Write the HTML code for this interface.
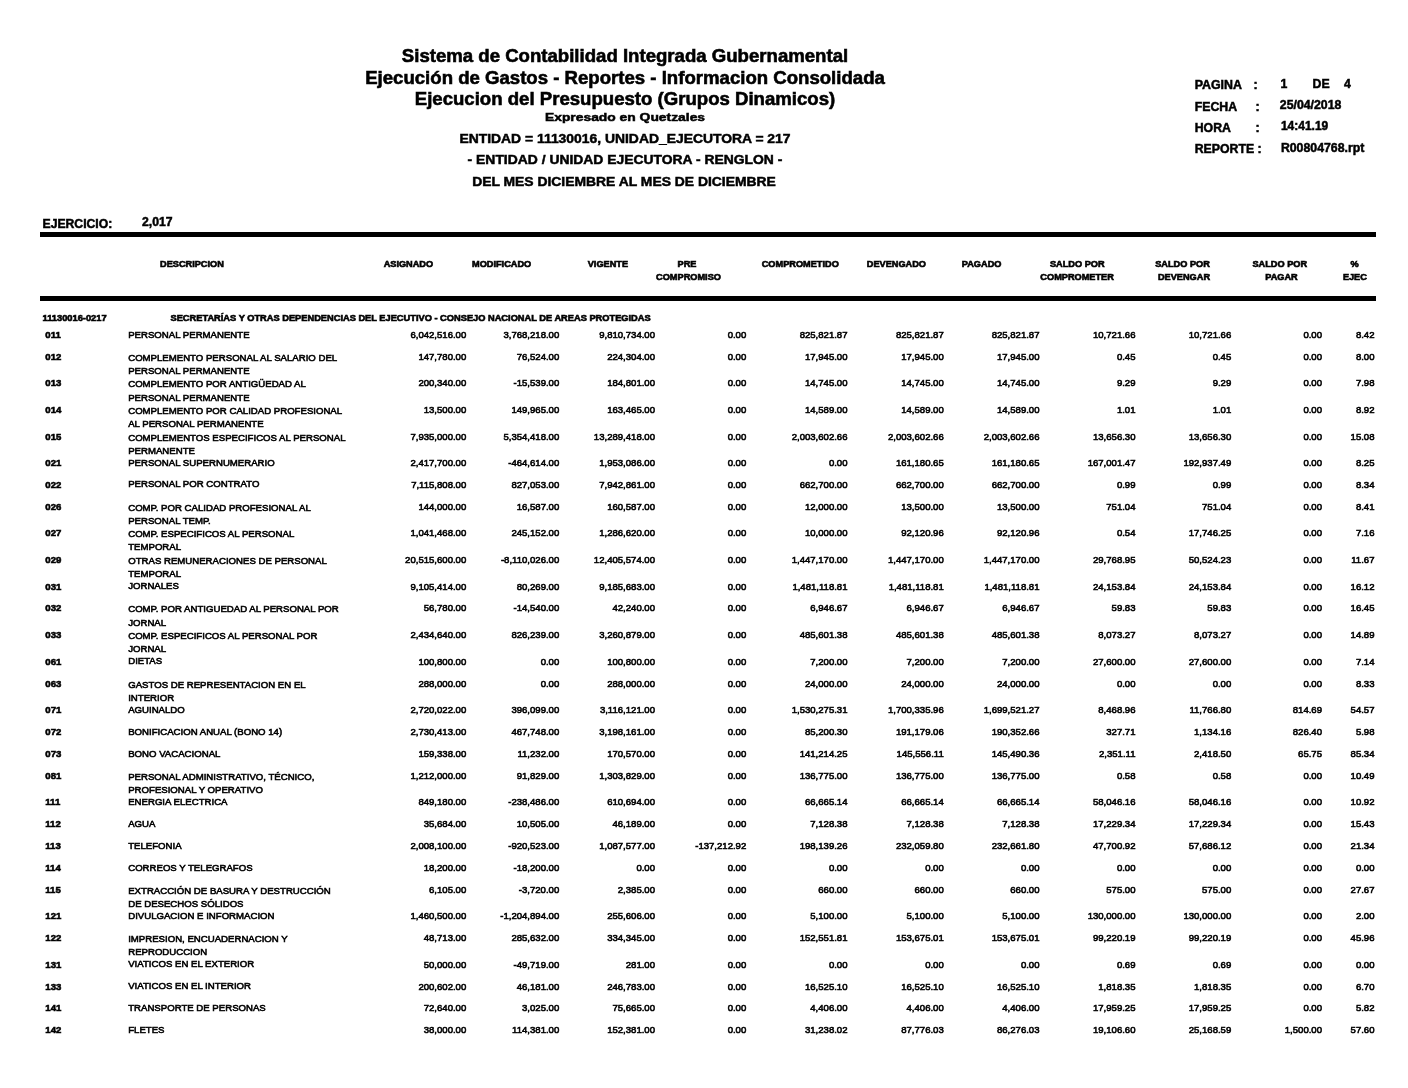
<!DOCTYPE html>
<html lang="es">
<head>
<meta charset="utf-8">
<title>Ejecucion del Presupuesto (Grupos Dinamicos)</title>
<style>
html,body{margin:0;padding:0;background:#fff;}
body{width:1408px;height:1088px;position:relative;overflow:hidden;font-family:"Liberation Sans", Arial, Helvetica, sans-serif;color:#000;}
.t{position:absolute;white-space:nowrap;margin:0;padding:0;-webkit-text-stroke:0.58px #000;}
.b{font-weight:bold;-webkit-text-stroke:0.5px #000;}
.h{-webkit-text-stroke:0.62px #000;}
.c{-webkit-text-stroke:0.58px #000;}
.big{-webkit-text-stroke:0.6px #000;}
#pg{position:absolute;left:0;top:0;width:1408px;height:1088px;will-change:transform;}
.rule{position:absolute;left:40px;width:1336.25px;background:#000;}
</style>
</head>
<body>
<div id="pg">
<div class="t b big" style="top:45px;font-size:18.6px;line-height:21px;left:325.00px;width:600px;text-align:center;">Sistema de Contabilidad Integrada Gubernamental</div>
<div class="t b big" style="top:67px;font-size:18.6px;line-height:21px;left:325.00px;width:600px;text-align:center;">Ejecución de Gastos - Reportes - Informacion Consolidada</div>
<div class="t b big" style="top:88px;font-size:18.6px;line-height:21px;left:325.00px;width:600px;text-align:center;">Ejecucion del Presupuesto (Grupos Dinamicos)</div>
<div class="t b" style="top:111px;font-size:11.3px;line-height:12px;left:325.00px;width:600px;text-align:center;transform:scaleX(1.226);transform-origin:50% 0;">Expresado en Quetzales</div>
<div class="t b" style="top:131px;font-size:13.4px;line-height:15px;left:325.00px;width:600px;text-align:center;transform:scaleX(1.037);transform-origin:50% 0;">ENTIDAD = 11130016, UNIDAD_EJECUTORA = 217</div>
<div class="t b" style="top:152px;font-size:13.4px;line-height:15px;left:325.00px;width:600px;text-align:center;transform:scaleX(1.037);transform-origin:50% 0;">- ENTIDAD / UNIDAD EJECUTORA - RENGLON -</div>
<div class="t b" style="top:174px;font-size:13.4px;line-height:15px;left:324.20px;width:600px;text-align:center;transform:scaleX(1.037);transform-origin:50% 0;">DEL MES DICIEMBRE AL MES DE DICIEMBRE</div>
<div class="t b" style="top:78px;font-size:12.4px;line-height:14px;left:1194.70px;">PAGINA</div>
<div class="t b" style="top:78px;font-size:12.4px;line-height:14px;left:1253.50px;">:</div>
<div class="t b" style="top:77px;font-size:12.3px;line-height:14px;left:1280.60px;">1</div>
<div class="t b" style="top:77px;font-size:12.3px;line-height:14px;left:1312.60px;">DE</div>
<div class="t b" style="top:77px;font-size:12.3px;line-height:14px;left:1343.90px;">4</div>
<div class="t b" style="top:100px;font-size:12.3px;line-height:14px;left:1194.70px;">FECHA</div>
<div class="t b" style="top:100px;font-size:12.4px;line-height:14px;left:1255.50px;">:</div>
<div class="t b" style="top:98px;font-size:12.3px;line-height:14px;left:1279.80px;">25/04/2018</div>
<div class="t b" style="top:121px;font-size:12.3px;line-height:14px;left:1194.70px;">HORA</div>
<div class="t b" style="top:121px;font-size:12.4px;line-height:14px;left:1255.50px;">:</div>
<div class="t b" style="top:119px;font-size:12.0px;line-height:14px;left:1280.90px;">14:41.19</div>
<div class="t b" style="top:142px;font-size:12.3px;line-height:14px;left:1194.70px;">REPORTE :</div>
<div class="t b" style="top:141px;font-size:12.3px;line-height:14px;left:1280.90px;">R00804768.rpt</div>
<div class="t b" style="top:217px;font-size:12.2px;line-height:14px;left:42.50px;">EJERCICIO:</div>
<div class="t b" style="top:215px;font-size:12.2px;line-height:14px;left:142.00px;">2,017</div>
<div class="rule" style="top:231.75px;height:5px;"></div>
<div class="rule" style="top:296.25px;height:4.5px;"></div>
<div class="t b h" style="top:259px;font-size:9.2px;line-height:10px;left:-108.10px;width:600px;text-align:center;">DESCRIPCION</div>
<div class="t b h" style="top:259px;font-size:9.2px;line-height:10px;left:108.40px;width:600px;text-align:center;">ASIGNADO</div>
<div class="t b h" style="top:259px;font-size:9.2px;line-height:10px;left:201.60px;width:600px;text-align:center;">MODIFICADO</div>
<div class="t b h" style="top:259px;font-size:9.2px;line-height:10px;left:307.90px;width:600px;text-align:center;">VIGENTE</div>
<div class="t b h" style="top:259px;font-size:9.2px;line-height:10px;left:387.00px;width:600px;text-align:center;">PRE</div>
<div class="t b h" style="top:272px;font-size:9.2px;line-height:10px;left:388.50px;width:600px;text-align:center;">COMPROMISO</div>
<div class="t b h" style="top:259px;font-size:9.2px;line-height:10px;left:500.25px;width:600px;text-align:center;">COMPROMETIDO</div>
<div class="t b h" style="top:259px;font-size:9.2px;line-height:10px;left:596.40px;width:600px;text-align:center;">DEVENGADO</div>
<div class="t b h" style="top:259px;font-size:9.2px;line-height:10px;left:681.60px;width:600px;text-align:center;">PAGADO</div>
<div class="t b h" style="top:259px;font-size:9.2px;line-height:10px;left:777.25px;width:600px;text-align:center;">SALDO POR</div>
<div class="t b h" style="top:272px;font-size:9.2px;line-height:10px;left:777.10px;width:600px;text-align:center;">COMPROMETER</div>
<div class="t b h" style="top:259px;font-size:9.2px;line-height:10px;left:882.50px;width:600px;text-align:center;">SALDO POR</div>
<div class="t b h" style="top:272px;font-size:9.2px;line-height:10px;left:884.00px;width:600px;text-align:center;">DEVENGAR</div>
<div class="t b h" style="top:259px;font-size:9.2px;line-height:10px;left:979.75px;width:600px;text-align:center;">SALDO POR</div>
<div class="t b h" style="top:272px;font-size:9.2px;line-height:10px;left:981.50px;width:600px;text-align:center;">PAGAR</div>
<div class="t b h" style="top:259px;font-size:9.2px;line-height:10px;left:1054.60px;width:600px;text-align:center;">%</div>
<div class="t b h" style="top:272px;font-size:9.2px;line-height:10px;left:1054.90px;width:600px;text-align:center;">EJEC</div>
<div class="t b h" style="top:313px;font-size:9.3px;line-height:10px;left:42.50px;">11130016-0217</div>
<div class="t b h" style="top:313px;font-size:9.28px;line-height:10px;left:170.50px;">SECRETARÍAS Y OTRAS DEPENDENCIAS DEL EJECUTIVO - CONSEJO NACIONAL DE AREAS PROTEGIDAS</div>
<div class="t b c" style="top:329px;font-size:9.6px;line-height:11px;left:45.30px;">011</div>
<div class="t d" style="top:329px;font-size:9.62px;line-height:11px;left:128.20px;">PERSONAL PERMANENTE</div>
<div class="t n" style="top:329px;font-size:9.57px;line-height:11px;left:0;width:466.25px;text-align:right;">6,042,516.00</div>
<div class="t n" style="top:329px;font-size:9.57px;line-height:11px;left:0;width:559.25px;text-align:right;">3,768,218.00</div>
<div class="t n" style="top:329px;font-size:9.57px;line-height:11px;left:0;width:655.00px;text-align:right;">9,810,734.00</div>
<div class="t n" style="top:329px;font-size:9.57px;line-height:11px;left:0;width:746.25px;text-align:right;">0.00</div>
<div class="t n" style="top:329px;font-size:9.57px;line-height:11px;left:0;width:847.50px;text-align:right;">825,821.87</div>
<div class="t n" style="top:329px;font-size:9.57px;line-height:11px;left:0;width:943.75px;text-align:right;">825,821.87</div>
<div class="t n" style="top:329px;font-size:9.57px;line-height:11px;left:0;width:1039.50px;text-align:right;">825,821.87</div>
<div class="t n" style="top:329px;font-size:9.57px;line-height:11px;left:0;width:1135.50px;text-align:right;">10,721.66</div>
<div class="t n" style="top:329px;font-size:9.57px;line-height:11px;left:0;width:1231.25px;text-align:right;">10,721.66</div>
<div class="t n" style="top:329px;font-size:9.57px;line-height:11px;left:0;width:1322.00px;text-align:right;">0.00</div>
<div class="t n" style="top:329px;font-size:9.57px;line-height:11px;left:0;width:1374.50px;text-align:right;">8.42</div>
<div class="t b c" style="top:351px;font-size:9.6px;line-height:11px;left:45.30px;">012</div>
<div class="t d" style="top:352px;font-size:9.62px;line-height:11px;left:128.20px;">COMPLEMENTO PERSONAL AL SALARIO DEL</div>
<div class="t d" style="top:365px;font-size:9.62px;line-height:11px;left:128.20px;">PERSONAL PERMANENTE</div>
<div class="t n" style="top:351px;font-size:9.57px;line-height:11px;left:0;width:466.25px;text-align:right;">147,780.00</div>
<div class="t n" style="top:351px;font-size:9.57px;line-height:11px;left:0;width:559.25px;text-align:right;">76,524.00</div>
<div class="t n" style="top:351px;font-size:9.57px;line-height:11px;left:0;width:655.00px;text-align:right;">224,304.00</div>
<div class="t n" style="top:351px;font-size:9.57px;line-height:11px;left:0;width:746.25px;text-align:right;">0.00</div>
<div class="t n" style="top:351px;font-size:9.57px;line-height:11px;left:0;width:847.50px;text-align:right;">17,945.00</div>
<div class="t n" style="top:351px;font-size:9.57px;line-height:11px;left:0;width:943.75px;text-align:right;">17,945.00</div>
<div class="t n" style="top:351px;font-size:9.57px;line-height:11px;left:0;width:1039.50px;text-align:right;">17,945.00</div>
<div class="t n" style="top:351px;font-size:9.57px;line-height:11px;left:0;width:1135.50px;text-align:right;">0.45</div>
<div class="t n" style="top:351px;font-size:9.57px;line-height:11px;left:0;width:1231.25px;text-align:right;">0.45</div>
<div class="t n" style="top:351px;font-size:9.57px;line-height:11px;left:0;width:1322.00px;text-align:right;">0.00</div>
<div class="t n" style="top:351px;font-size:9.57px;line-height:11px;left:0;width:1374.50px;text-align:right;">8.00</div>
<div class="t b c" style="top:377px;font-size:9.6px;line-height:11px;left:45.30px;">013</div>
<div class="t d" style="top:378px;font-size:9.62px;line-height:11px;left:128.20px;">COMPLEMENTO POR ANTIGÜEDAD AL</div>
<div class="t d" style="top:392px;font-size:9.62px;line-height:11px;left:128.20px;">PERSONAL PERMANENTE</div>
<div class="t n" style="top:377px;font-size:9.57px;line-height:11px;left:0;width:466.25px;text-align:right;">200,340.00</div>
<div class="t n" style="top:377px;font-size:9.57px;line-height:11px;left:0;width:559.25px;text-align:right;">-15,539.00</div>
<div class="t n" style="top:377px;font-size:9.57px;line-height:11px;left:0;width:655.00px;text-align:right;">184,801.00</div>
<div class="t n" style="top:377px;font-size:9.57px;line-height:11px;left:0;width:746.25px;text-align:right;">0.00</div>
<div class="t n" style="top:377px;font-size:9.57px;line-height:11px;left:0;width:847.50px;text-align:right;">14,745.00</div>
<div class="t n" style="top:377px;font-size:9.57px;line-height:11px;left:0;width:943.75px;text-align:right;">14,745.00</div>
<div class="t n" style="top:377px;font-size:9.57px;line-height:11px;left:0;width:1039.50px;text-align:right;">14,745.00</div>
<div class="t n" style="top:377px;font-size:9.57px;line-height:11px;left:0;width:1135.50px;text-align:right;">9.29</div>
<div class="t n" style="top:377px;font-size:9.57px;line-height:11px;left:0;width:1231.25px;text-align:right;">9.29</div>
<div class="t n" style="top:377px;font-size:9.57px;line-height:11px;left:0;width:1322.00px;text-align:right;">0.00</div>
<div class="t n" style="top:377px;font-size:9.57px;line-height:11px;left:0;width:1374.50px;text-align:right;">7.98</div>
<div class="t b c" style="top:404px;font-size:9.6px;line-height:11px;left:45.30px;">014</div>
<div class="t d" style="top:405px;font-size:9.62px;line-height:11px;left:128.20px;">COMPLEMENTO POR CALIDAD PROFESIONAL</div>
<div class="t d" style="top:418px;font-size:9.62px;line-height:11px;left:128.20px;">AL PERSONAL PERMANENTE</div>
<div class="t n" style="top:404px;font-size:9.57px;line-height:11px;left:0;width:466.25px;text-align:right;">13,500.00</div>
<div class="t n" style="top:404px;font-size:9.57px;line-height:11px;left:0;width:559.25px;text-align:right;">149,965.00</div>
<div class="t n" style="top:404px;font-size:9.57px;line-height:11px;left:0;width:655.00px;text-align:right;">163,465.00</div>
<div class="t n" style="top:404px;font-size:9.57px;line-height:11px;left:0;width:746.25px;text-align:right;">0.00</div>
<div class="t n" style="top:404px;font-size:9.57px;line-height:11px;left:0;width:847.50px;text-align:right;">14,589.00</div>
<div class="t n" style="top:404px;font-size:9.57px;line-height:11px;left:0;width:943.75px;text-align:right;">14,589.00</div>
<div class="t n" style="top:404px;font-size:9.57px;line-height:11px;left:0;width:1039.50px;text-align:right;">14,589.00</div>
<div class="t n" style="top:404px;font-size:9.57px;line-height:11px;left:0;width:1135.50px;text-align:right;">1.01</div>
<div class="t n" style="top:404px;font-size:9.57px;line-height:11px;left:0;width:1231.25px;text-align:right;">1.01</div>
<div class="t n" style="top:404px;font-size:9.57px;line-height:11px;left:0;width:1322.00px;text-align:right;">0.00</div>
<div class="t n" style="top:404px;font-size:9.57px;line-height:11px;left:0;width:1374.50px;text-align:right;">8.92</div>
<div class="t b c" style="top:431px;font-size:9.6px;line-height:11px;left:45.30px;">015</div>
<div class="t d" style="top:432px;font-size:9.62px;line-height:11px;left:128.20px;">COMPLEMENTOS ESPECIFICOS AL PERSONAL</div>
<div class="t d" style="top:445px;font-size:9.62px;line-height:11px;left:128.20px;">PERMANENTE</div>
<div class="t n" style="top:431px;font-size:9.57px;line-height:11px;left:0;width:466.25px;text-align:right;">7,935,000.00</div>
<div class="t n" style="top:431px;font-size:9.57px;line-height:11px;left:0;width:559.25px;text-align:right;">5,354,418.00</div>
<div class="t n" style="top:431px;font-size:9.57px;line-height:11px;left:0;width:655.00px;text-align:right;">13,289,418.00</div>
<div class="t n" style="top:431px;font-size:9.57px;line-height:11px;left:0;width:746.25px;text-align:right;">0.00</div>
<div class="t n" style="top:431px;font-size:9.57px;line-height:11px;left:0;width:847.50px;text-align:right;">2,003,602.66</div>
<div class="t n" style="top:431px;font-size:9.57px;line-height:11px;left:0;width:943.75px;text-align:right;">2,003,602.66</div>
<div class="t n" style="top:431px;font-size:9.57px;line-height:11px;left:0;width:1039.50px;text-align:right;">2,003,602.66</div>
<div class="t n" style="top:431px;font-size:9.57px;line-height:11px;left:0;width:1135.50px;text-align:right;">13,656.30</div>
<div class="t n" style="top:431px;font-size:9.57px;line-height:11px;left:0;width:1231.25px;text-align:right;">13,656.30</div>
<div class="t n" style="top:431px;font-size:9.57px;line-height:11px;left:0;width:1322.00px;text-align:right;">0.00</div>
<div class="t n" style="top:431px;font-size:9.57px;line-height:11px;left:0;width:1374.50px;text-align:right;">15.08</div>
<div class="t b c" style="top:457px;font-size:9.6px;line-height:11px;left:45.30px;">021</div>
<div class="t d" style="top:457px;font-size:9.62px;line-height:11px;left:128.20px;">PERSONAL SUPERNUMERARIO</div>
<div class="t n" style="top:457px;font-size:9.57px;line-height:11px;left:0;width:466.25px;text-align:right;">2,417,700.00</div>
<div class="t n" style="top:457px;font-size:9.57px;line-height:11px;left:0;width:559.25px;text-align:right;">-464,614.00</div>
<div class="t n" style="top:457px;font-size:9.57px;line-height:11px;left:0;width:655.00px;text-align:right;">1,953,086.00</div>
<div class="t n" style="top:457px;font-size:9.57px;line-height:11px;left:0;width:746.25px;text-align:right;">0.00</div>
<div class="t n" style="top:457px;font-size:9.57px;line-height:11px;left:0;width:847.50px;text-align:right;">0.00</div>
<div class="t n" style="top:457px;font-size:9.57px;line-height:11px;left:0;width:943.75px;text-align:right;">161,180.65</div>
<div class="t n" style="top:457px;font-size:9.57px;line-height:11px;left:0;width:1039.50px;text-align:right;">161,180.65</div>
<div class="t n" style="top:457px;font-size:9.57px;line-height:11px;left:0;width:1135.50px;text-align:right;">167,001.47</div>
<div class="t n" style="top:457px;font-size:9.57px;line-height:11px;left:0;width:1231.25px;text-align:right;">192,937.49</div>
<div class="t n" style="top:457px;font-size:9.57px;line-height:11px;left:0;width:1322.00px;text-align:right;">0.00</div>
<div class="t n" style="top:457px;font-size:9.57px;line-height:11px;left:0;width:1374.50px;text-align:right;">8.25</div>
<div class="t b c" style="top:479px;font-size:9.6px;line-height:11px;left:45.30px;">022</div>
<div class="t d" style="top:478px;font-size:9.62px;line-height:11px;left:128.20px;">PERSONAL POR CONTRATO</div>
<div class="t n" style="top:479px;font-size:9.57px;line-height:11px;left:0;width:466.25px;text-align:right;">7,115,808.00</div>
<div class="t n" style="top:479px;font-size:9.57px;line-height:11px;left:0;width:559.25px;text-align:right;">827,053.00</div>
<div class="t n" style="top:479px;font-size:9.57px;line-height:11px;left:0;width:655.00px;text-align:right;">7,942,861.00</div>
<div class="t n" style="top:479px;font-size:9.57px;line-height:11px;left:0;width:746.25px;text-align:right;">0.00</div>
<div class="t n" style="top:479px;font-size:9.57px;line-height:11px;left:0;width:847.50px;text-align:right;">662,700.00</div>
<div class="t n" style="top:479px;font-size:9.57px;line-height:11px;left:0;width:943.75px;text-align:right;">662,700.00</div>
<div class="t n" style="top:479px;font-size:9.57px;line-height:11px;left:0;width:1039.50px;text-align:right;">662,700.00</div>
<div class="t n" style="top:479px;font-size:9.57px;line-height:11px;left:0;width:1135.50px;text-align:right;">0.99</div>
<div class="t n" style="top:479px;font-size:9.57px;line-height:11px;left:0;width:1231.25px;text-align:right;">0.99</div>
<div class="t n" style="top:479px;font-size:9.57px;line-height:11px;left:0;width:1322.00px;text-align:right;">0.00</div>
<div class="t n" style="top:479px;font-size:9.57px;line-height:11px;left:0;width:1374.50px;text-align:right;">8.34</div>
<div class="t b c" style="top:501px;font-size:9.6px;line-height:11px;left:45.30px;">026</div>
<div class="t d" style="top:502px;font-size:9.62px;line-height:11px;left:128.20px;">COMP. POR CALIDAD PROFESIONAL AL</div>
<div class="t d" style="top:515px;font-size:9.62px;line-height:11px;left:128.20px;">PERSONAL TEMP.</div>
<div class="t n" style="top:501px;font-size:9.57px;line-height:11px;left:0;width:466.25px;text-align:right;">144,000.00</div>
<div class="t n" style="top:501px;font-size:9.57px;line-height:11px;left:0;width:559.25px;text-align:right;">16,587.00</div>
<div class="t n" style="top:501px;font-size:9.57px;line-height:11px;left:0;width:655.00px;text-align:right;">160,587.00</div>
<div class="t n" style="top:501px;font-size:9.57px;line-height:11px;left:0;width:746.25px;text-align:right;">0.00</div>
<div class="t n" style="top:501px;font-size:9.57px;line-height:11px;left:0;width:847.50px;text-align:right;">12,000.00</div>
<div class="t n" style="top:501px;font-size:9.57px;line-height:11px;left:0;width:943.75px;text-align:right;">13,500.00</div>
<div class="t n" style="top:501px;font-size:9.57px;line-height:11px;left:0;width:1039.50px;text-align:right;">13,500.00</div>
<div class="t n" style="top:501px;font-size:9.57px;line-height:11px;left:0;width:1135.50px;text-align:right;">751.04</div>
<div class="t n" style="top:501px;font-size:9.57px;line-height:11px;left:0;width:1231.25px;text-align:right;">751.04</div>
<div class="t n" style="top:501px;font-size:9.57px;line-height:11px;left:0;width:1322.00px;text-align:right;">0.00</div>
<div class="t n" style="top:501px;font-size:9.57px;line-height:11px;left:0;width:1374.50px;text-align:right;">8.41</div>
<div class="t b c" style="top:527px;font-size:9.6px;line-height:11px;left:45.30px;">027</div>
<div class="t d" style="top:528px;font-size:9.62px;line-height:11px;left:128.20px;">COMP. ESPECIFICOS AL PERSONAL</div>
<div class="t d" style="top:541px;font-size:9.62px;line-height:11px;left:128.20px;">TEMPORAL</div>
<div class="t n" style="top:527px;font-size:9.57px;line-height:11px;left:0;width:466.25px;text-align:right;">1,041,468.00</div>
<div class="t n" style="top:527px;font-size:9.57px;line-height:11px;left:0;width:559.25px;text-align:right;">245,152.00</div>
<div class="t n" style="top:527px;font-size:9.57px;line-height:11px;left:0;width:655.00px;text-align:right;">1,286,620.00</div>
<div class="t n" style="top:527px;font-size:9.57px;line-height:11px;left:0;width:746.25px;text-align:right;">0.00</div>
<div class="t n" style="top:527px;font-size:9.57px;line-height:11px;left:0;width:847.50px;text-align:right;">10,000.00</div>
<div class="t n" style="top:527px;font-size:9.57px;line-height:11px;left:0;width:943.75px;text-align:right;">92,120.96</div>
<div class="t n" style="top:527px;font-size:9.57px;line-height:11px;left:0;width:1039.50px;text-align:right;">92,120.96</div>
<div class="t n" style="top:527px;font-size:9.57px;line-height:11px;left:0;width:1135.50px;text-align:right;">0.54</div>
<div class="t n" style="top:527px;font-size:9.57px;line-height:11px;left:0;width:1231.25px;text-align:right;">17,746.25</div>
<div class="t n" style="top:527px;font-size:9.57px;line-height:11px;left:0;width:1322.00px;text-align:right;">0.00</div>
<div class="t n" style="top:527px;font-size:9.57px;line-height:11px;left:0;width:1374.50px;text-align:right;">7.16</div>
<div class="t b c" style="top:554px;font-size:9.6px;line-height:11px;left:45.30px;">029</div>
<div class="t d" style="top:555px;font-size:9.62px;line-height:11px;left:128.20px;">OTRAS REMUNERACIONES DE PERSONAL</div>
<div class="t d" style="top:568px;font-size:9.62px;line-height:11px;left:128.20px;">TEMPORAL</div>
<div class="t n" style="top:554px;font-size:9.57px;line-height:11px;left:0;width:466.25px;text-align:right;">20,515,600.00</div>
<div class="t n" style="top:554px;font-size:9.57px;line-height:11px;left:0;width:559.25px;text-align:right;">-8,110,026.00</div>
<div class="t n" style="top:554px;font-size:9.57px;line-height:11px;left:0;width:655.00px;text-align:right;">12,405,574.00</div>
<div class="t n" style="top:554px;font-size:9.57px;line-height:11px;left:0;width:746.25px;text-align:right;">0.00</div>
<div class="t n" style="top:554px;font-size:9.57px;line-height:11px;left:0;width:847.50px;text-align:right;">1,447,170.00</div>
<div class="t n" style="top:554px;font-size:9.57px;line-height:11px;left:0;width:943.75px;text-align:right;">1,447,170.00</div>
<div class="t n" style="top:554px;font-size:9.57px;line-height:11px;left:0;width:1039.50px;text-align:right;">1,447,170.00</div>
<div class="t n" style="top:554px;font-size:9.57px;line-height:11px;left:0;width:1135.50px;text-align:right;">29,768.95</div>
<div class="t n" style="top:554px;font-size:9.57px;line-height:11px;left:0;width:1231.25px;text-align:right;">50,524.23</div>
<div class="t n" style="top:554px;font-size:9.57px;line-height:11px;left:0;width:1322.00px;text-align:right;">0.00</div>
<div class="t n" style="top:554px;font-size:9.57px;line-height:11px;left:0;width:1374.50px;text-align:right;">11.67</div>
<div class="t b c" style="top:581px;font-size:9.6px;line-height:11px;left:45.30px;">031</div>
<div class="t d" style="top:580px;font-size:9.62px;line-height:11px;left:128.20px;">JORNALES</div>
<div class="t n" style="top:581px;font-size:9.57px;line-height:11px;left:0;width:466.25px;text-align:right;">9,105,414.00</div>
<div class="t n" style="top:581px;font-size:9.57px;line-height:11px;left:0;width:559.25px;text-align:right;">80,269.00</div>
<div class="t n" style="top:581px;font-size:9.57px;line-height:11px;left:0;width:655.00px;text-align:right;">9,185,683.00</div>
<div class="t n" style="top:581px;font-size:9.57px;line-height:11px;left:0;width:746.25px;text-align:right;">0.00</div>
<div class="t n" style="top:581px;font-size:9.57px;line-height:11px;left:0;width:847.50px;text-align:right;">1,481,118.81</div>
<div class="t n" style="top:581px;font-size:9.57px;line-height:11px;left:0;width:943.75px;text-align:right;">1,481,118.81</div>
<div class="t n" style="top:581px;font-size:9.57px;line-height:11px;left:0;width:1039.50px;text-align:right;">1,481,118.81</div>
<div class="t n" style="top:581px;font-size:9.57px;line-height:11px;left:0;width:1135.50px;text-align:right;">24,153.84</div>
<div class="t n" style="top:581px;font-size:9.57px;line-height:11px;left:0;width:1231.25px;text-align:right;">24,153.84</div>
<div class="t n" style="top:581px;font-size:9.57px;line-height:11px;left:0;width:1322.00px;text-align:right;">0.00</div>
<div class="t n" style="top:581px;font-size:9.57px;line-height:11px;left:0;width:1374.50px;text-align:right;">16.12</div>
<div class="t b c" style="top:602px;font-size:9.6px;line-height:11px;left:45.30px;">032</div>
<div class="t d" style="top:603px;font-size:9.62px;line-height:11px;left:128.20px;">COMP. POR ANTIGUEDAD AL PERSONAL POR</div>
<div class="t d" style="top:617px;font-size:9.62px;line-height:11px;left:128.20px;">JORNAL</div>
<div class="t n" style="top:602px;font-size:9.57px;line-height:11px;left:0;width:466.25px;text-align:right;">56,780.00</div>
<div class="t n" style="top:602px;font-size:9.57px;line-height:11px;left:0;width:559.25px;text-align:right;">-14,540.00</div>
<div class="t n" style="top:602px;font-size:9.57px;line-height:11px;left:0;width:655.00px;text-align:right;">42,240.00</div>
<div class="t n" style="top:602px;font-size:9.57px;line-height:11px;left:0;width:746.25px;text-align:right;">0.00</div>
<div class="t n" style="top:602px;font-size:9.57px;line-height:11px;left:0;width:847.50px;text-align:right;">6,946.67</div>
<div class="t n" style="top:602px;font-size:9.57px;line-height:11px;left:0;width:943.75px;text-align:right;">6,946.67</div>
<div class="t n" style="top:602px;font-size:9.57px;line-height:11px;left:0;width:1039.50px;text-align:right;">6,946.67</div>
<div class="t n" style="top:602px;font-size:9.57px;line-height:11px;left:0;width:1135.50px;text-align:right;">59.83</div>
<div class="t n" style="top:602px;font-size:9.57px;line-height:11px;left:0;width:1231.25px;text-align:right;">59.83</div>
<div class="t n" style="top:602px;font-size:9.57px;line-height:11px;left:0;width:1322.00px;text-align:right;">0.00</div>
<div class="t n" style="top:602px;font-size:9.57px;line-height:11px;left:0;width:1374.50px;text-align:right;">16.45</div>
<div class="t b c" style="top:629px;font-size:9.6px;line-height:11px;left:45.30px;">033</div>
<div class="t d" style="top:630px;font-size:9.62px;line-height:11px;left:128.20px;">COMP. ESPECIFICOS AL PERSONAL POR</div>
<div class="t d" style="top:643px;font-size:9.62px;line-height:11px;left:128.20px;">JORNAL</div>
<div class="t n" style="top:629px;font-size:9.57px;line-height:11px;left:0;width:466.25px;text-align:right;">2,434,640.00</div>
<div class="t n" style="top:629px;font-size:9.57px;line-height:11px;left:0;width:559.25px;text-align:right;">826,239.00</div>
<div class="t n" style="top:629px;font-size:9.57px;line-height:11px;left:0;width:655.00px;text-align:right;">3,260,879.00</div>
<div class="t n" style="top:629px;font-size:9.57px;line-height:11px;left:0;width:746.25px;text-align:right;">0.00</div>
<div class="t n" style="top:629px;font-size:9.57px;line-height:11px;left:0;width:847.50px;text-align:right;">485,601.38</div>
<div class="t n" style="top:629px;font-size:9.57px;line-height:11px;left:0;width:943.75px;text-align:right;">485,601.38</div>
<div class="t n" style="top:629px;font-size:9.57px;line-height:11px;left:0;width:1039.50px;text-align:right;">485,601.38</div>
<div class="t n" style="top:629px;font-size:9.57px;line-height:11px;left:0;width:1135.50px;text-align:right;">8,073.27</div>
<div class="t n" style="top:629px;font-size:9.57px;line-height:11px;left:0;width:1231.25px;text-align:right;">8,073.27</div>
<div class="t n" style="top:629px;font-size:9.57px;line-height:11px;left:0;width:1322.00px;text-align:right;">0.00</div>
<div class="t n" style="top:629px;font-size:9.57px;line-height:11px;left:0;width:1374.50px;text-align:right;">14.89</div>
<div class="t b c" style="top:656px;font-size:9.6px;line-height:11px;left:45.30px;">061</div>
<div class="t d" style="top:655px;font-size:9.62px;line-height:11px;left:128.20px;">DIETAS</div>
<div class="t n" style="top:656px;font-size:9.57px;line-height:11px;left:0;width:466.25px;text-align:right;">100,800.00</div>
<div class="t n" style="top:656px;font-size:9.57px;line-height:11px;left:0;width:559.25px;text-align:right;">0.00</div>
<div class="t n" style="top:656px;font-size:9.57px;line-height:11px;left:0;width:655.00px;text-align:right;">100,800.00</div>
<div class="t n" style="top:656px;font-size:9.57px;line-height:11px;left:0;width:746.25px;text-align:right;">0.00</div>
<div class="t n" style="top:656px;font-size:9.57px;line-height:11px;left:0;width:847.50px;text-align:right;">7,200.00</div>
<div class="t n" style="top:656px;font-size:9.57px;line-height:11px;left:0;width:943.75px;text-align:right;">7,200.00</div>
<div class="t n" style="top:656px;font-size:9.57px;line-height:11px;left:0;width:1039.50px;text-align:right;">7,200.00</div>
<div class="t n" style="top:656px;font-size:9.57px;line-height:11px;left:0;width:1135.50px;text-align:right;">27,600.00</div>
<div class="t n" style="top:656px;font-size:9.57px;line-height:11px;left:0;width:1231.25px;text-align:right;">27,600.00</div>
<div class="t n" style="top:656px;font-size:9.57px;line-height:11px;left:0;width:1322.00px;text-align:right;">0.00</div>
<div class="t n" style="top:656px;font-size:9.57px;line-height:11px;left:0;width:1374.50px;text-align:right;">7.14</div>
<div class="t b c" style="top:678px;font-size:9.6px;line-height:11px;left:45.30px;">063</div>
<div class="t d" style="top:679px;font-size:9.62px;line-height:11px;left:128.20px;">GASTOS DE REPRESENTACION EN EL</div>
<div class="t d" style="top:692px;font-size:9.62px;line-height:11px;left:128.20px;">INTERIOR</div>
<div class="t n" style="top:678px;font-size:9.57px;line-height:11px;left:0;width:466.25px;text-align:right;">288,000.00</div>
<div class="t n" style="top:678px;font-size:9.57px;line-height:11px;left:0;width:559.25px;text-align:right;">0.00</div>
<div class="t n" style="top:678px;font-size:9.57px;line-height:11px;left:0;width:655.00px;text-align:right;">288,000.00</div>
<div class="t n" style="top:678px;font-size:9.57px;line-height:11px;left:0;width:746.25px;text-align:right;">0.00</div>
<div class="t n" style="top:678px;font-size:9.57px;line-height:11px;left:0;width:847.50px;text-align:right;">24,000.00</div>
<div class="t n" style="top:678px;font-size:9.57px;line-height:11px;left:0;width:943.75px;text-align:right;">24,000.00</div>
<div class="t n" style="top:678px;font-size:9.57px;line-height:11px;left:0;width:1039.50px;text-align:right;">24,000.00</div>
<div class="t n" style="top:678px;font-size:9.57px;line-height:11px;left:0;width:1135.50px;text-align:right;">0.00</div>
<div class="t n" style="top:678px;font-size:9.57px;line-height:11px;left:0;width:1231.25px;text-align:right;">0.00</div>
<div class="t n" style="top:678px;font-size:9.57px;line-height:11px;left:0;width:1322.00px;text-align:right;">0.00</div>
<div class="t n" style="top:678px;font-size:9.57px;line-height:11px;left:0;width:1374.50px;text-align:right;">8.33</div>
<div class="t b c" style="top:704px;font-size:9.6px;line-height:11px;left:45.30px;">071</div>
<div class="t d" style="top:704px;font-size:9.62px;line-height:11px;left:128.20px;">AGUINALDO</div>
<div class="t n" style="top:704px;font-size:9.57px;line-height:11px;left:0;width:466.25px;text-align:right;">2,720,022.00</div>
<div class="t n" style="top:704px;font-size:9.57px;line-height:11px;left:0;width:559.25px;text-align:right;">396,099.00</div>
<div class="t n" style="top:704px;font-size:9.57px;line-height:11px;left:0;width:655.00px;text-align:right;">3,116,121.00</div>
<div class="t n" style="top:704px;font-size:9.57px;line-height:11px;left:0;width:746.25px;text-align:right;">0.00</div>
<div class="t n" style="top:704px;font-size:9.57px;line-height:11px;left:0;width:847.50px;text-align:right;">1,530,275.31</div>
<div class="t n" style="top:704px;font-size:9.57px;line-height:11px;left:0;width:943.75px;text-align:right;">1,700,335.96</div>
<div class="t n" style="top:704px;font-size:9.57px;line-height:11px;left:0;width:1039.50px;text-align:right;">1,699,521.27</div>
<div class="t n" style="top:704px;font-size:9.57px;line-height:11px;left:0;width:1135.50px;text-align:right;">8,468.96</div>
<div class="t n" style="top:704px;font-size:9.57px;line-height:11px;left:0;width:1231.25px;text-align:right;">11,766.80</div>
<div class="t n" style="top:704px;font-size:9.57px;line-height:11px;left:0;width:1322.00px;text-align:right;">814.69</div>
<div class="t n" style="top:704px;font-size:9.57px;line-height:11px;left:0;width:1374.50px;text-align:right;">54.57</div>
<div class="t b c" style="top:726px;font-size:9.6px;line-height:11px;left:45.30px;">072</div>
<div class="t d" style="top:726px;font-size:9.62px;line-height:11px;left:128.20px;">BONIFICACION ANUAL (BONO 14)</div>
<div class="t n" style="top:726px;font-size:9.57px;line-height:11px;left:0;width:466.25px;text-align:right;">2,730,413.00</div>
<div class="t n" style="top:726px;font-size:9.57px;line-height:11px;left:0;width:559.25px;text-align:right;">467,748.00</div>
<div class="t n" style="top:726px;font-size:9.57px;line-height:11px;left:0;width:655.00px;text-align:right;">3,198,161.00</div>
<div class="t n" style="top:726px;font-size:9.57px;line-height:11px;left:0;width:746.25px;text-align:right;">0.00</div>
<div class="t n" style="top:726px;font-size:9.57px;line-height:11px;left:0;width:847.50px;text-align:right;">85,200.30</div>
<div class="t n" style="top:726px;font-size:9.57px;line-height:11px;left:0;width:943.75px;text-align:right;">191,179.06</div>
<div class="t n" style="top:726px;font-size:9.57px;line-height:11px;left:0;width:1039.50px;text-align:right;">190,352.66</div>
<div class="t n" style="top:726px;font-size:9.57px;line-height:11px;left:0;width:1135.50px;text-align:right;">327.71</div>
<div class="t n" style="top:726px;font-size:9.57px;line-height:11px;left:0;width:1231.25px;text-align:right;">1,134.16</div>
<div class="t n" style="top:726px;font-size:9.57px;line-height:11px;left:0;width:1322.00px;text-align:right;">826.40</div>
<div class="t n" style="top:726px;font-size:9.57px;line-height:11px;left:0;width:1374.50px;text-align:right;">5.98</div>
<div class="t b c" style="top:748px;font-size:9.6px;line-height:11px;left:45.30px;">073</div>
<div class="t d" style="top:748px;font-size:9.62px;line-height:11px;left:128.20px;">BONO VACACIONAL</div>
<div class="t n" style="top:748px;font-size:9.57px;line-height:11px;left:0;width:466.25px;text-align:right;">159,338.00</div>
<div class="t n" style="top:748px;font-size:9.57px;line-height:11px;left:0;width:559.25px;text-align:right;">11,232.00</div>
<div class="t n" style="top:748px;font-size:9.57px;line-height:11px;left:0;width:655.00px;text-align:right;">170,570.00</div>
<div class="t n" style="top:748px;font-size:9.57px;line-height:11px;left:0;width:746.25px;text-align:right;">0.00</div>
<div class="t n" style="top:748px;font-size:9.57px;line-height:11px;left:0;width:847.50px;text-align:right;">141,214.25</div>
<div class="t n" style="top:748px;font-size:9.57px;line-height:11px;left:0;width:943.75px;text-align:right;">145,556.11</div>
<div class="t n" style="top:748px;font-size:9.57px;line-height:11px;left:0;width:1039.50px;text-align:right;">145,490.36</div>
<div class="t n" style="top:748px;font-size:9.57px;line-height:11px;left:0;width:1135.50px;text-align:right;">2,351.11</div>
<div class="t n" style="top:748px;font-size:9.57px;line-height:11px;left:0;width:1231.25px;text-align:right;">2,418.50</div>
<div class="t n" style="top:748px;font-size:9.57px;line-height:11px;left:0;width:1322.00px;text-align:right;">65.75</div>
<div class="t n" style="top:748px;font-size:9.57px;line-height:11px;left:0;width:1374.50px;text-align:right;">85.34</div>
<div class="t b c" style="top:770px;font-size:9.6px;line-height:11px;left:45.30px;">081</div>
<div class="t d" style="top:771px;font-size:9.62px;line-height:11px;left:128.20px;">PERSONAL ADMINISTRATIVO, TÉCNICO,</div>
<div class="t d" style="top:784px;font-size:9.62px;line-height:11px;left:128.20px;">PROFESIONAL Y OPERATIVO</div>
<div class="t n" style="top:770px;font-size:9.57px;line-height:11px;left:0;width:466.25px;text-align:right;">1,212,000.00</div>
<div class="t n" style="top:770px;font-size:9.57px;line-height:11px;left:0;width:559.25px;text-align:right;">91,829.00</div>
<div class="t n" style="top:770px;font-size:9.57px;line-height:11px;left:0;width:655.00px;text-align:right;">1,303,829.00</div>
<div class="t n" style="top:770px;font-size:9.57px;line-height:11px;left:0;width:746.25px;text-align:right;">0.00</div>
<div class="t n" style="top:770px;font-size:9.57px;line-height:11px;left:0;width:847.50px;text-align:right;">136,775.00</div>
<div class="t n" style="top:770px;font-size:9.57px;line-height:11px;left:0;width:943.75px;text-align:right;">136,775.00</div>
<div class="t n" style="top:770px;font-size:9.57px;line-height:11px;left:0;width:1039.50px;text-align:right;">136,775.00</div>
<div class="t n" style="top:770px;font-size:9.57px;line-height:11px;left:0;width:1135.50px;text-align:right;">0.58</div>
<div class="t n" style="top:770px;font-size:9.57px;line-height:11px;left:0;width:1231.25px;text-align:right;">0.58</div>
<div class="t n" style="top:770px;font-size:9.57px;line-height:11px;left:0;width:1322.00px;text-align:right;">0.00</div>
<div class="t n" style="top:770px;font-size:9.57px;line-height:11px;left:0;width:1374.50px;text-align:right;">10.49</div>
<div class="t b c" style="top:796px;font-size:9.6px;line-height:11px;left:45.30px;">111</div>
<div class="t d" style="top:796px;font-size:9.62px;line-height:11px;left:128.20px;">ENERGIA ELECTRICA</div>
<div class="t n" style="top:796px;font-size:9.57px;line-height:11px;left:0;width:466.25px;text-align:right;">849,180.00</div>
<div class="t n" style="top:796px;font-size:9.57px;line-height:11px;left:0;width:559.25px;text-align:right;">-238,486.00</div>
<div class="t n" style="top:796px;font-size:9.57px;line-height:11px;left:0;width:655.00px;text-align:right;">610,694.00</div>
<div class="t n" style="top:796px;font-size:9.57px;line-height:11px;left:0;width:746.25px;text-align:right;">0.00</div>
<div class="t n" style="top:796px;font-size:9.57px;line-height:11px;left:0;width:847.50px;text-align:right;">66,665.14</div>
<div class="t n" style="top:796px;font-size:9.57px;line-height:11px;left:0;width:943.75px;text-align:right;">66,665.14</div>
<div class="t n" style="top:796px;font-size:9.57px;line-height:11px;left:0;width:1039.50px;text-align:right;">66,665.14</div>
<div class="t n" style="top:796px;font-size:9.57px;line-height:11px;left:0;width:1135.50px;text-align:right;">58,046.16</div>
<div class="t n" style="top:796px;font-size:9.57px;line-height:11px;left:0;width:1231.25px;text-align:right;">58,046.16</div>
<div class="t n" style="top:796px;font-size:9.57px;line-height:11px;left:0;width:1322.00px;text-align:right;">0.00</div>
<div class="t n" style="top:796px;font-size:9.57px;line-height:11px;left:0;width:1374.50px;text-align:right;">10.92</div>
<div class="t b c" style="top:818px;font-size:9.6px;line-height:11px;left:45.30px;">112</div>
<div class="t d" style="top:818px;font-size:9.62px;line-height:11px;left:128.20px;">AGUA</div>
<div class="t n" style="top:818px;font-size:9.57px;line-height:11px;left:0;width:466.25px;text-align:right;">35,684.00</div>
<div class="t n" style="top:818px;font-size:9.57px;line-height:11px;left:0;width:559.25px;text-align:right;">10,505.00</div>
<div class="t n" style="top:818px;font-size:9.57px;line-height:11px;left:0;width:655.00px;text-align:right;">46,189.00</div>
<div class="t n" style="top:818px;font-size:9.57px;line-height:11px;left:0;width:746.25px;text-align:right;">0.00</div>
<div class="t n" style="top:818px;font-size:9.57px;line-height:11px;left:0;width:847.50px;text-align:right;">7,128.38</div>
<div class="t n" style="top:818px;font-size:9.57px;line-height:11px;left:0;width:943.75px;text-align:right;">7,128.38</div>
<div class="t n" style="top:818px;font-size:9.57px;line-height:11px;left:0;width:1039.50px;text-align:right;">7,128.38</div>
<div class="t n" style="top:818px;font-size:9.57px;line-height:11px;left:0;width:1135.50px;text-align:right;">17,229.34</div>
<div class="t n" style="top:818px;font-size:9.57px;line-height:11px;left:0;width:1231.25px;text-align:right;">17,229.34</div>
<div class="t n" style="top:818px;font-size:9.57px;line-height:11px;left:0;width:1322.00px;text-align:right;">0.00</div>
<div class="t n" style="top:818px;font-size:9.57px;line-height:11px;left:0;width:1374.50px;text-align:right;">15.43</div>
<div class="t b c" style="top:840px;font-size:9.6px;line-height:11px;left:45.30px;">113</div>
<div class="t d" style="top:840px;font-size:9.62px;line-height:11px;left:128.20px;">TELEFONIA</div>
<div class="t n" style="top:840px;font-size:9.57px;line-height:11px;left:0;width:466.25px;text-align:right;">2,008,100.00</div>
<div class="t n" style="top:840px;font-size:9.57px;line-height:11px;left:0;width:559.25px;text-align:right;">-920,523.00</div>
<div class="t n" style="top:840px;font-size:9.57px;line-height:11px;left:0;width:655.00px;text-align:right;">1,087,577.00</div>
<div class="t n" style="top:840px;font-size:9.57px;line-height:11px;left:0;width:746.25px;text-align:right;">-137,212.92</div>
<div class="t n" style="top:840px;font-size:9.57px;line-height:11px;left:0;width:847.50px;text-align:right;">198,139.26</div>
<div class="t n" style="top:840px;font-size:9.57px;line-height:11px;left:0;width:943.75px;text-align:right;">232,059.80</div>
<div class="t n" style="top:840px;font-size:9.57px;line-height:11px;left:0;width:1039.50px;text-align:right;">232,661.80</div>
<div class="t n" style="top:840px;font-size:9.57px;line-height:11px;left:0;width:1135.50px;text-align:right;">47,700.92</div>
<div class="t n" style="top:840px;font-size:9.57px;line-height:11px;left:0;width:1231.25px;text-align:right;">57,686.12</div>
<div class="t n" style="top:840px;font-size:9.57px;line-height:11px;left:0;width:1322.00px;text-align:right;">0.00</div>
<div class="t n" style="top:840px;font-size:9.57px;line-height:11px;left:0;width:1374.50px;text-align:right;">21.34</div>
<div class="t b c" style="top:862px;font-size:9.6px;line-height:11px;left:45.30px;">114</div>
<div class="t d" style="top:862px;font-size:9.62px;line-height:11px;left:128.20px;">CORREOS Y TELEGRAFOS</div>
<div class="t n" style="top:862px;font-size:9.57px;line-height:11px;left:0;width:466.25px;text-align:right;">18,200.00</div>
<div class="t n" style="top:862px;font-size:9.57px;line-height:11px;left:0;width:559.25px;text-align:right;">-18,200.00</div>
<div class="t n" style="top:862px;font-size:9.57px;line-height:11px;left:0;width:655.00px;text-align:right;">0.00</div>
<div class="t n" style="top:862px;font-size:9.57px;line-height:11px;left:0;width:746.25px;text-align:right;">0.00</div>
<div class="t n" style="top:862px;font-size:9.57px;line-height:11px;left:0;width:847.50px;text-align:right;">0.00</div>
<div class="t n" style="top:862px;font-size:9.57px;line-height:11px;left:0;width:943.75px;text-align:right;">0.00</div>
<div class="t n" style="top:862px;font-size:9.57px;line-height:11px;left:0;width:1039.50px;text-align:right;">0.00</div>
<div class="t n" style="top:862px;font-size:9.57px;line-height:11px;left:0;width:1135.50px;text-align:right;">0.00</div>
<div class="t n" style="top:862px;font-size:9.57px;line-height:11px;left:0;width:1231.25px;text-align:right;">0.00</div>
<div class="t n" style="top:862px;font-size:9.57px;line-height:11px;left:0;width:1322.00px;text-align:right;">0.00</div>
<div class="t n" style="top:862px;font-size:9.57px;line-height:11px;left:0;width:1374.50px;text-align:right;">0.00</div>
<div class="t b c" style="top:884px;font-size:9.6px;line-height:11px;left:45.30px;">115</div>
<div class="t d" style="top:885px;font-size:9.62px;line-height:11px;left:128.20px;">EXTRACCIÓN DE BASURA Y DESTRUCCIÓN</div>
<div class="t d" style="top:898px;font-size:9.62px;line-height:11px;left:128.20px;">DE DESECHOS SÓLIDOS</div>
<div class="t n" style="top:884px;font-size:9.57px;line-height:11px;left:0;width:466.25px;text-align:right;">6,105.00</div>
<div class="t n" style="top:884px;font-size:9.57px;line-height:11px;left:0;width:559.25px;text-align:right;">-3,720.00</div>
<div class="t n" style="top:884px;font-size:9.57px;line-height:11px;left:0;width:655.00px;text-align:right;">2,385.00</div>
<div class="t n" style="top:884px;font-size:9.57px;line-height:11px;left:0;width:746.25px;text-align:right;">0.00</div>
<div class="t n" style="top:884px;font-size:9.57px;line-height:11px;left:0;width:847.50px;text-align:right;">660.00</div>
<div class="t n" style="top:884px;font-size:9.57px;line-height:11px;left:0;width:943.75px;text-align:right;">660.00</div>
<div class="t n" style="top:884px;font-size:9.57px;line-height:11px;left:0;width:1039.50px;text-align:right;">660.00</div>
<div class="t n" style="top:884px;font-size:9.57px;line-height:11px;left:0;width:1135.50px;text-align:right;">575.00</div>
<div class="t n" style="top:884px;font-size:9.57px;line-height:11px;left:0;width:1231.25px;text-align:right;">575.00</div>
<div class="t n" style="top:884px;font-size:9.57px;line-height:11px;left:0;width:1322.00px;text-align:right;">0.00</div>
<div class="t n" style="top:884px;font-size:9.57px;line-height:11px;left:0;width:1374.50px;text-align:right;">27.67</div>
<div class="t b c" style="top:910px;font-size:9.6px;line-height:11px;left:45.30px;">121</div>
<div class="t d" style="top:910px;font-size:9.62px;line-height:11px;left:128.20px;">DIVULGACION E INFORMACION</div>
<div class="t n" style="top:910px;font-size:9.57px;line-height:11px;left:0;width:466.25px;text-align:right;">1,460,500.00</div>
<div class="t n" style="top:910px;font-size:9.57px;line-height:11px;left:0;width:559.25px;text-align:right;">-1,204,894.00</div>
<div class="t n" style="top:910px;font-size:9.57px;line-height:11px;left:0;width:655.00px;text-align:right;">255,606.00</div>
<div class="t n" style="top:910px;font-size:9.57px;line-height:11px;left:0;width:746.25px;text-align:right;">0.00</div>
<div class="t n" style="top:910px;font-size:9.57px;line-height:11px;left:0;width:847.50px;text-align:right;">5,100.00</div>
<div class="t n" style="top:910px;font-size:9.57px;line-height:11px;left:0;width:943.75px;text-align:right;">5,100.00</div>
<div class="t n" style="top:910px;font-size:9.57px;line-height:11px;left:0;width:1039.50px;text-align:right;">5,100.00</div>
<div class="t n" style="top:910px;font-size:9.57px;line-height:11px;left:0;width:1135.50px;text-align:right;">130,000.00</div>
<div class="t n" style="top:910px;font-size:9.57px;line-height:11px;left:0;width:1231.25px;text-align:right;">130,000.00</div>
<div class="t n" style="top:910px;font-size:9.57px;line-height:11px;left:0;width:1322.00px;text-align:right;">0.00</div>
<div class="t n" style="top:910px;font-size:9.57px;line-height:11px;left:0;width:1374.50px;text-align:right;">2.00</div>
<div class="t b c" style="top:932px;font-size:9.6px;line-height:11px;left:45.30px;">122</div>
<div class="t d" style="top:933px;font-size:9.62px;line-height:11px;left:128.20px;">IMPRESION, ENCUADERNACION Y</div>
<div class="t d" style="top:946px;font-size:9.62px;line-height:11px;left:128.20px;">REPRODUCCION</div>
<div class="t n" style="top:932px;font-size:9.57px;line-height:11px;left:0;width:466.25px;text-align:right;">48,713.00</div>
<div class="t n" style="top:932px;font-size:9.57px;line-height:11px;left:0;width:559.25px;text-align:right;">285,632.00</div>
<div class="t n" style="top:932px;font-size:9.57px;line-height:11px;left:0;width:655.00px;text-align:right;">334,345.00</div>
<div class="t n" style="top:932px;font-size:9.57px;line-height:11px;left:0;width:746.25px;text-align:right;">0.00</div>
<div class="t n" style="top:932px;font-size:9.57px;line-height:11px;left:0;width:847.50px;text-align:right;">152,551.81</div>
<div class="t n" style="top:932px;font-size:9.57px;line-height:11px;left:0;width:943.75px;text-align:right;">153,675.01</div>
<div class="t n" style="top:932px;font-size:9.57px;line-height:11px;left:0;width:1039.50px;text-align:right;">153,675.01</div>
<div class="t n" style="top:932px;font-size:9.57px;line-height:11px;left:0;width:1135.50px;text-align:right;">99,220.19</div>
<div class="t n" style="top:932px;font-size:9.57px;line-height:11px;left:0;width:1231.25px;text-align:right;">99,220.19</div>
<div class="t n" style="top:932px;font-size:9.57px;line-height:11px;left:0;width:1322.00px;text-align:right;">0.00</div>
<div class="t n" style="top:932px;font-size:9.57px;line-height:11px;left:0;width:1374.50px;text-align:right;">45.96</div>
<div class="t b c" style="top:959px;font-size:9.6px;line-height:11px;left:45.30px;">131</div>
<div class="t d" style="top:958px;font-size:9.62px;line-height:11px;left:128.20px;">VIATICOS EN EL EXTERIOR</div>
<div class="t n" style="top:959px;font-size:9.57px;line-height:11px;left:0;width:466.25px;text-align:right;">50,000.00</div>
<div class="t n" style="top:959px;font-size:9.57px;line-height:11px;left:0;width:559.25px;text-align:right;">-49,719.00</div>
<div class="t n" style="top:959px;font-size:9.57px;line-height:11px;left:0;width:655.00px;text-align:right;">281.00</div>
<div class="t n" style="top:959px;font-size:9.57px;line-height:11px;left:0;width:746.25px;text-align:right;">0.00</div>
<div class="t n" style="top:959px;font-size:9.57px;line-height:11px;left:0;width:847.50px;text-align:right;">0.00</div>
<div class="t n" style="top:959px;font-size:9.57px;line-height:11px;left:0;width:943.75px;text-align:right;">0.00</div>
<div class="t n" style="top:959px;font-size:9.57px;line-height:11px;left:0;width:1039.50px;text-align:right;">0.00</div>
<div class="t n" style="top:959px;font-size:9.57px;line-height:11px;left:0;width:1135.50px;text-align:right;">0.69</div>
<div class="t n" style="top:959px;font-size:9.57px;line-height:11px;left:0;width:1231.25px;text-align:right;">0.69</div>
<div class="t n" style="top:959px;font-size:9.57px;line-height:11px;left:0;width:1322.00px;text-align:right;">0.00</div>
<div class="t n" style="top:959px;font-size:9.57px;line-height:11px;left:0;width:1374.50px;text-align:right;">0.00</div>
<div class="t b c" style="top:981px;font-size:9.6px;line-height:11px;left:45.30px;">133</div>
<div class="t d" style="top:980px;font-size:9.62px;line-height:11px;left:128.20px;">VIATICOS EN EL INTERIOR</div>
<div class="t n" style="top:981px;font-size:9.57px;line-height:11px;left:0;width:466.25px;text-align:right;">200,602.00</div>
<div class="t n" style="top:981px;font-size:9.57px;line-height:11px;left:0;width:559.25px;text-align:right;">46,181.00</div>
<div class="t n" style="top:981px;font-size:9.57px;line-height:11px;left:0;width:655.00px;text-align:right;">246,783.00</div>
<div class="t n" style="top:981px;font-size:9.57px;line-height:11px;left:0;width:746.25px;text-align:right;">0.00</div>
<div class="t n" style="top:981px;font-size:9.57px;line-height:11px;left:0;width:847.50px;text-align:right;">16,525.10</div>
<div class="t n" style="top:981px;font-size:9.57px;line-height:11px;left:0;width:943.75px;text-align:right;">16,525.10</div>
<div class="t n" style="top:981px;font-size:9.57px;line-height:11px;left:0;width:1039.50px;text-align:right;">16,525.10</div>
<div class="t n" style="top:981px;font-size:9.57px;line-height:11px;left:0;width:1135.50px;text-align:right;">1,818.35</div>
<div class="t n" style="top:981px;font-size:9.57px;line-height:11px;left:0;width:1231.25px;text-align:right;">1,818.35</div>
<div class="t n" style="top:981px;font-size:9.57px;line-height:11px;left:0;width:1322.00px;text-align:right;">0.00</div>
<div class="t n" style="top:981px;font-size:9.57px;line-height:11px;left:0;width:1374.50px;text-align:right;">6.70</div>
<div class="t b c" style="top:1002px;font-size:9.6px;line-height:11px;left:45.30px;">141</div>
<div class="t d" style="top:1002px;font-size:9.62px;line-height:11px;left:128.20px;">TRANSPORTE DE PERSONAS</div>
<div class="t n" style="top:1002px;font-size:9.57px;line-height:11px;left:0;width:466.25px;text-align:right;">72,640.00</div>
<div class="t n" style="top:1002px;font-size:9.57px;line-height:11px;left:0;width:559.25px;text-align:right;">3,025.00</div>
<div class="t n" style="top:1002px;font-size:9.57px;line-height:11px;left:0;width:655.00px;text-align:right;">75,665.00</div>
<div class="t n" style="top:1002px;font-size:9.57px;line-height:11px;left:0;width:746.25px;text-align:right;">0.00</div>
<div class="t n" style="top:1002px;font-size:9.57px;line-height:11px;left:0;width:847.50px;text-align:right;">4,406.00</div>
<div class="t n" style="top:1002px;font-size:9.57px;line-height:11px;left:0;width:943.75px;text-align:right;">4,406.00</div>
<div class="t n" style="top:1002px;font-size:9.57px;line-height:11px;left:0;width:1039.50px;text-align:right;">4,406.00</div>
<div class="t n" style="top:1002px;font-size:9.57px;line-height:11px;left:0;width:1135.50px;text-align:right;">17,959.25</div>
<div class="t n" style="top:1002px;font-size:9.57px;line-height:11px;left:0;width:1231.25px;text-align:right;">17,959.25</div>
<div class="t n" style="top:1002px;font-size:9.57px;line-height:11px;left:0;width:1322.00px;text-align:right;">0.00</div>
<div class="t n" style="top:1002px;font-size:9.57px;line-height:11px;left:0;width:1374.50px;text-align:right;">5.82</div>
<div class="t b c" style="top:1024px;font-size:9.6px;line-height:11px;left:45.30px;">142</div>
<div class="t d" style="top:1024px;font-size:9.62px;line-height:11px;left:128.20px;">FLETES</div>
<div class="t n" style="top:1024px;font-size:9.57px;line-height:11px;left:0;width:466.25px;text-align:right;">38,000.00</div>
<div class="t n" style="top:1024px;font-size:9.57px;line-height:11px;left:0;width:559.25px;text-align:right;">114,381.00</div>
<div class="t n" style="top:1024px;font-size:9.57px;line-height:11px;left:0;width:655.00px;text-align:right;">152,381.00</div>
<div class="t n" style="top:1024px;font-size:9.57px;line-height:11px;left:0;width:746.25px;text-align:right;">0.00</div>
<div class="t n" style="top:1024px;font-size:9.57px;line-height:11px;left:0;width:847.50px;text-align:right;">31,238.02</div>
<div class="t n" style="top:1024px;font-size:9.57px;line-height:11px;left:0;width:943.75px;text-align:right;">87,776.03</div>
<div class="t n" style="top:1024px;font-size:9.57px;line-height:11px;left:0;width:1039.50px;text-align:right;">86,276.03</div>
<div class="t n" style="top:1024px;font-size:9.57px;line-height:11px;left:0;width:1135.50px;text-align:right;">19,106.60</div>
<div class="t n" style="top:1024px;font-size:9.57px;line-height:11px;left:0;width:1231.25px;text-align:right;">25,168.59</div>
<div class="t n" style="top:1024px;font-size:9.57px;line-height:11px;left:0;width:1322.00px;text-align:right;">1,500.00</div>
<div class="t n" style="top:1024px;font-size:9.57px;line-height:11px;left:0;width:1374.50px;text-align:right;">57.60</div>
</div>
</body>
</html>
